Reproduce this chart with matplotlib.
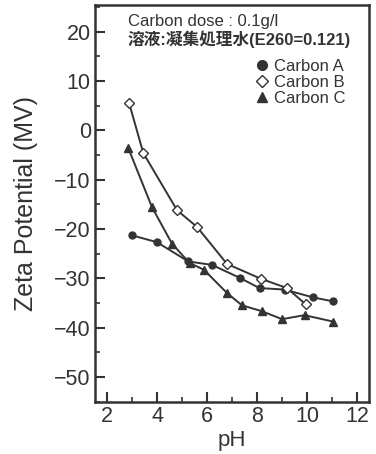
import matplotlib
matplotlib.use('Agg')
import matplotlib.pyplot as plt
from matplotlib.lines import Line2D
from matplotlib.ticker import MultipleLocator

plt.rcParams['font.family'] = ['Liberation Sans', 'Noto Sans CJK JP', 'DejaVu Sans']

# data
PH_A = [3.0, 4.0, 5.25, 6.2, 7.3, 8.1, 9.1, 10.25, 11.05]
ZETA_A = [-21.3, -22.7, -26.6, -27.3, -29.9, -32.0, -32.3, -33.9, -34.7]

PH_B = [2.88, 3.45, 4.8, 5.6, 6.8, 8.15, 9.2, 9.95]
ZETA_B = [5.6, -4.6, -16.2, -19.6, -27.1, -30.1, -32.0, -35.3]

PH_C = [2.85, 3.8, 4.6, 5.3, 5.88, 6.8, 7.4, 8.2, 9.0, 9.9, 11.05]
ZETA_C = [-3.6, -15.6, -23.0, -26.9, -28.3, -33.0, -35.5, -36.7, -38.3, -37.5, -38.8]

LABELS = ['Carbon A', 'Carbon B', 'Carbon C']
INK = '#333333'

fig = plt.figure(figsize=(3.76, 4.54), dpi=100)
ax = fig.add_axes([95/376, 1 - 402/454, 274/376, 397/454])

ax.plot(PH_A, ZETA_A, color=INK, lw=1.4, marker='o', ms=5, mfc=INK, mec=INK)
ax.plot(PH_B, ZETA_B, color=INK, lw=1.4, marker='D', ms=5, mfc='white', mec=INK)
ax.plot(PH_C, ZETA_C, color=INK, lw=1.4, marker='^', ms=6, mfc=INK, mec=INK)

ax.set_xlim(1.52, 12.48)
ax.set_ylim(-55.1, 25.4)
ax.xaxis.set_major_locator(MultipleLocator(2))
ax.xaxis.set_minor_locator(MultipleLocator(1))
ax.yaxis.set_major_locator(MultipleLocator(10))
ax.yaxis.set_minor_locator(MultipleLocator(5))
ax.tick_params(which='major', direction='in', length=7, width=1.5, color=INK,
               labelsize=15.5, labelcolor=INK, pad=3)
ax.tick_params(which='minor', direction='in', length=3.5, width=1.2, color=INK)
for s in ax.spines.values():
    s.set_linewidth(1.8)
    s.set_color(INK)

ax.set_xlabel('pH', fontsize=16, color=INK, labelpad=2)
ax.set_ylabel('Zeta Potential (MV)', fontsize=18, color=INK, labelpad=12)

ax.text(0.12, 0.978, 'Carbon dose : 0.1g/l', transform=ax.transAxes,
        fontsize=12, color=INK, va='top', ha='left')
ax.text(0.12, 0.935, '溶液:凝集処理水(E260=0.121)', transform=ax.transAxes,
        fontsize=12, color=INK, va='top', ha='left', fontweight='bold')

handles = [
    Line2D([], [], ls='none', marker='o', ms=7, mfc=INK, mec=INK),
    Line2D([], [], ls='none', marker='D', ms=6, mfc='white', mec=INK),
    Line2D([], [], ls='none', marker='^', ms=7, mfc=INK, mec=INK),
]
leg = ax.legend(handles, LABELS, loc='upper right', bbox_to_anchor=(0.945, 0.885),
                frameon=False, fontsize=12, handlelength=0.8, handletextpad=0.3,
                labelspacing=0.05, borderpad=0)
for t in leg.get_texts():
    t.set_color(INK)

fig.savefig('out.png', dpi=100)
